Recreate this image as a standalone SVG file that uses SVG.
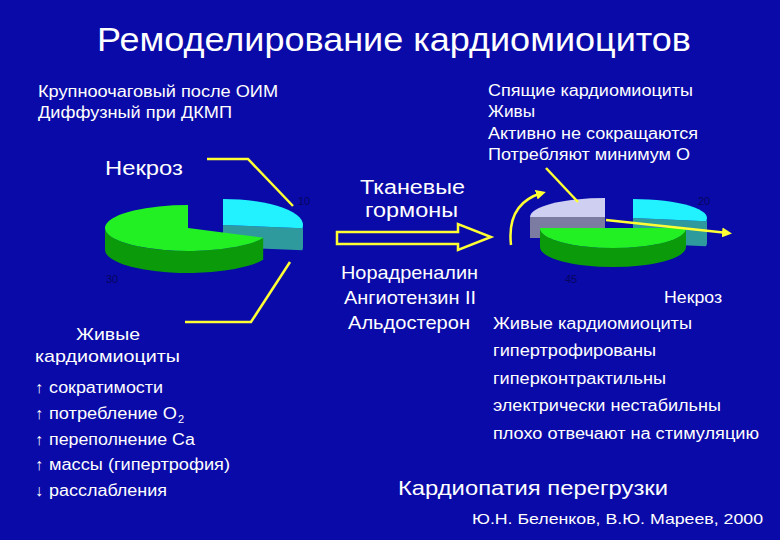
<svg xmlns="http://www.w3.org/2000/svg" width="780" height="540" viewBox="0 0 780 540">
<style>
text{font-family:"Liberation Sans",Arial,sans-serif;fill:#ffffff}
.t16{font-size:16px}
.t17{font-size:17px}
.t19{font-size:19px}
.t20{font-size:20px}
.t21{font-size:21px}
.lbl{font-size:11px;fill:#05055e}
.yl{fill:none;stroke:#ffff33;stroke-width:2.5;stroke-linejoin:miter}
.cyanTop{fill:#22f2ff}
.cyanSide{fill:#2f9a9e}
.greenTop{fill:#22f022}
.greenSide{fill:#0a9a0a}
.greyTop{fill:#cfcff2}
.greySide{fill:#7c7ca2}
</style>
<defs>
<marker id="ah" viewBox="0 0 10 10" refX="6" refY="5" markerWidth="4" markerHeight="4" orient="auto" markerUnits="strokeWidth">
<path d="M0,0 L10,5 L0,10 Z" fill="#ffff33"/>
</marker>
</defs>
<rect x="0" y="0" width="780" height="540" fill="#0a0aa8"/>

<g id="title">
<text x="97" y="51" style="font-size:33px" textLength="594" lengthAdjust="spacingAndGlyphs">Ремоделирование кардиомиоцитов</text>
</g>

<g id="infarct-types">
<text class="t16" x="38" y="97" textLength="240" lengthAdjust="spacingAndGlyphs">Крупноочаговый после ОИМ</text>
<text class="t16" x="38" y="118" textLength="194" lengthAdjust="spacingAndGlyphs">Диффузный при ДКМП</text>
</g>

<g id="sleeping">
<text class="t16" x="488" y="96" textLength="205" lengthAdjust="spacingAndGlyphs">Спящие кардиомиоциты</text>
<text class="t16" x="488" y="117" textLength="47" lengthAdjust="spacingAndGlyphs">Живы</text>
<text class="t16" x="488" y="139" textLength="210" lengthAdjust="spacingAndGlyphs">Активно не сокращаются</text>
<text class="t16" x="488" y="160" textLength="202" lengthAdjust="spacingAndGlyphs">Потребляют минимум О</text>
</g>

<g id="left-pie">
<text class="t20" x="105" y="175" textLength="78" lengthAdjust="spacingAndGlyphs">Некроз</text>
<path class="cyanSide" d="M223,225 L302.4,228.2 A80,26 0 0,0 303,225 L303,247 A80,26 0 0,1 302.4,250.2 L223,247 Z"/>
<path class="cyanTop" d="M223,225 L223,199 A80,26 0 0,1 302.4,228.2 Z"/>
<path class="greenSide" d="M263.2,237.7 A83,23 0 0,1 105,228 L105,250 A83,23 0 0,0 263.2,259.7 Z"/>
<path class="greenTop" d="M188,228 L263.2,237.7 A83,23 0 1,1 188,205 Z"/>
<text class="lbl" x="298" y="205">10</text>
<text class="lbl" x="106" y="283">30</text>
</g>

<g id="living-left">
<text class="t17" x="76" y="340" textLength="64" lengthAdjust="spacingAndGlyphs">Живые</text>
<text class="t17" x="35" y="362" textLength="145" lengthAdjust="spacingAndGlyphs">кардиомиоциты</text>
<text class="t16" x="35" y="393">↑</text>
<text class="t16" x="49" y="393" textLength="114" lengthAdjust="spacingAndGlyphs">сократимости</text>
<text class="t16" x="35" y="419">↑</text>
<text class="t16" x="49" y="419" textLength="128" lengthAdjust="spacingAndGlyphs">потребление O</text>
<text x="178" y="423" style="font-size:11px">2</text>
<text class="t16" x="35" y="445">↑</text>
<text class="t16" x="49" y="445" textLength="146" lengthAdjust="spacingAndGlyphs">переполнение Са</text>
<text class="t16" x="35" y="470">↑</text>
<text class="t16" x="49" y="470" textLength="181" lengthAdjust="spacingAndGlyphs">массы (гипертрофия)</text>
<text class="t16" x="35" y="496">↓</text>
<text class="t16" x="49" y="496" textLength="118" lengthAdjust="spacingAndGlyphs">расслабления</text>
</g>

<g id="hormones">
<text style="font-size:19.5px"><tspan x="360" y="194" textLength="105" lengthAdjust="spacingAndGlyphs">Тканевые</tspan><tspan x="365" y="216.5" textLength="93" lengthAdjust="spacingAndGlyphs">гормоны</tspan></text>
<text class="t19" x="341" y="279" textLength="137" lengthAdjust="spacingAndGlyphs">Норадреналин</text>
<text class="t19" x="344" y="304" textLength="132" lengthAdjust="spacingAndGlyphs">Ангиотензин II</text>
<text class="t19" x="348" y="329" textLength="122" lengthAdjust="spacingAndGlyphs">Альдостерон</text>
</g>

<g id="right-pie">
<path class="cyanSide" d="M633,218 L705.9,221.3 A74,19 0 0,0 707,218 L707,243 A74,19 0 0,1 705.9,246.3 L633,243 Z"/>
<path class="cyanTop" d="M633,218 L633,199 A74,19 0 0,1 705.9,221.3 Z"/>
<path class="greySide" d="M530,217 L605,217 L605,238 L530,238 Z"/>
<path class="greyTop" d="M605,217 L530,217 A75,19 0 0,1 605,198 Z"/>
<path class="greenSide" d="M686,228 A73,20 0 0,1 540,228 L540,247 A73,20 0 0,0 686,247 Z"/>
<path class="greenTop" d="M540,228 L686,228 A73,20 0 0,1 540,228 Z"/>
<text class="lbl" x="698" y="205">20</text>
<text class="lbl" x="565" y="283">45</text>
</g>

<g id="right-text">
<text class="t16" x="664" y="303" textLength="58" lengthAdjust="spacingAndGlyphs">Некроз</text>
<text class="t16" x="493" y="329" textLength="199" lengthAdjust="spacingAndGlyphs">Живые кардиомиоциты</text>
<text class="t16" x="493" y="356" textLength="163" lengthAdjust="spacingAndGlyphs">гипертрофированы</text>
<text class="t16" x="493" y="384" textLength="173" lengthAdjust="spacingAndGlyphs">гиперконтрактильны</text>
<text class="t16" x="493" y="411" textLength="228" lengthAdjust="spacingAndGlyphs">электрически нестабильны</text>
<text class="t16" x="493" y="439" textLength="266" lengthAdjust="spacingAndGlyphs">плохо отвечают на стимуляцию</text>
</g>

<g id="footer">
<text class="t21" x="398" y="495" textLength="270" lengthAdjust="spacingAndGlyphs">Кардиопатия перегрузки</text>
<text x="472" y="524" style="font-size:15px" textLength="291" lengthAdjust="spacingAndGlyphs">Ю.Н. Беленков, В.Ю. Мареев, 2000</text>
</g>

<g id="connectors">
<polyline class="yl" points="207,159 248,159 293,206"/>
<polyline class="yl" points="290,262 251,322 185,322"/>
<path d="M337,232 L458,232 L458,224 L491,237 L458,250 L458,244 L337,244 Z" fill="#0a0aa8" stroke="#ffff33" stroke-width="2.5" stroke-linejoin="miter"/>
<line class="yl" x1="546" y1="168" x2="578" y2="202"/>
<path class="yl" d="M511,245 C508,218 518,200 542,193" marker-end="url(#ah)"/>
<line class="yl" x1="606" y1="220" x2="728" y2="233" marker-end="url(#ah)"/>
</g>
</svg>
